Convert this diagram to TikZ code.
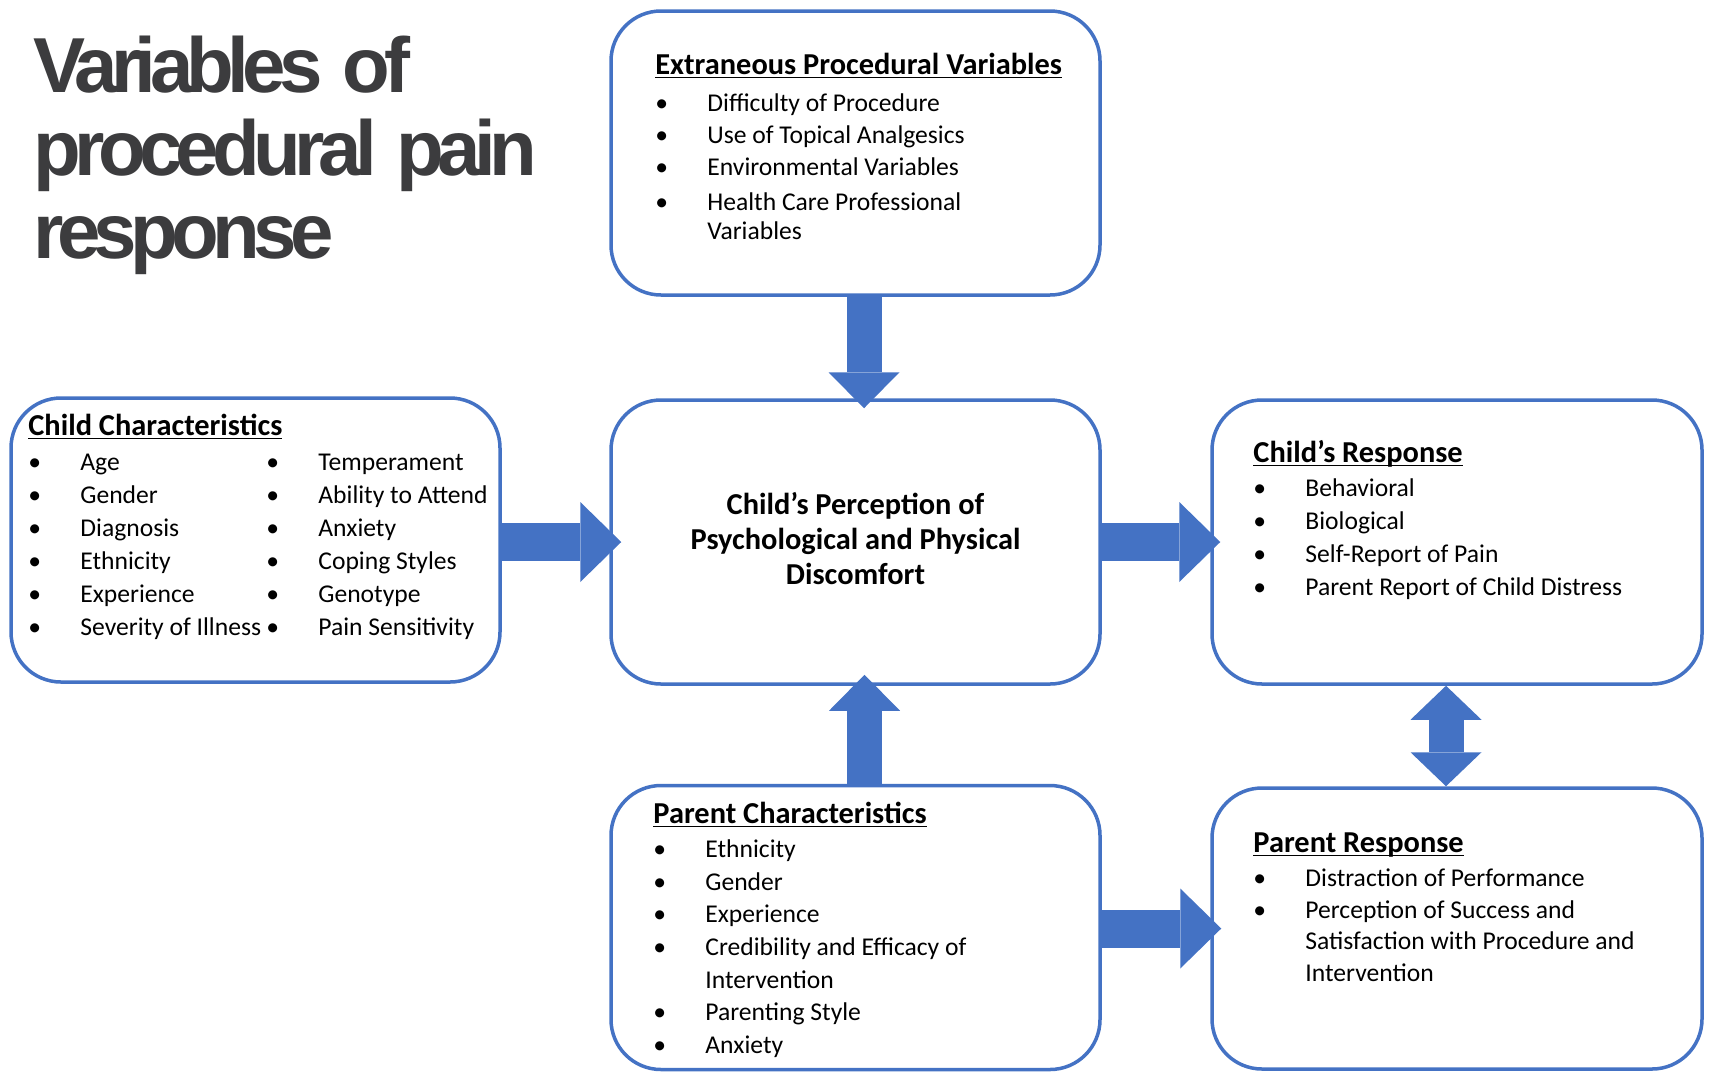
\documentclass[tikz,border=0pt]{standalone}
\usepackage{fontspec}
\setmainfont{Carlito}
\newfontfamily\ttlfont[LetterSpace=-8.5]{Liberation Sans}
\usetikzlibrary{arrows.meta,calc}

\definecolor{azul}{HTML}{4472C4}
\definecolor{gristit}{HTML}{3C3C3E}
\setlength{\tabcolsep}{0pt}
\newcommand{\hd}[2]{\multicolumn{#1}{@{}l@{}}{\fontsize{15.2pt}{17pt}\selectfont\bfseries
  \sbox0{#2}\rlap{\rule[-2.2pt]{\wd0}{0.9pt}}\usebox0}}
\newcommand{\bl}{\makebox[26pt][l]{\textbullet}}

\tikzset{caja/.style={draw=azul, line width=1.75pt, rounded corners=25pt,
                      minimum width=244.5pt, minimum height=142pt, inner sep=0pt},
         etq/.style={inner sep=0pt, anchor=base west, font=\fontsize{12.8pt}{16.5pt}\selectfont},
         fv/.style={azul, line width=17.5pt, -{Triangle[length=18pt, width=35.5pt, line width=0pt]}},
         fh/.style={azul, line width=19pt, -{Triangle[length=20.5pt, width=40pt, line width=0pt]}}}

\begin{document}
\begin{tikzpicture}[x=0.5pt, y=-0.5pt]
  \path[use as bounding box, fill=white] (0,0) rectangle (1711,1072);

  \node[anchor=base west, inner sep=0pt, text=gristit,
        font=\ttlfont\bfseries\fontsize{39pt}{41.5pt}\selectfont] (ttl) at (33,92)
       {\begin{tabular}[t]{@{}l@{}}Variables\hspace{10pt}of\\procedural\hspace{10pt}pain\\response\end{tabular}};

  % cajas
  \node[caja] (ext)  at (855.5,153) {};
  \node[caja, font=\fontsize{15.2pt}{17.5pt}\selectfont\bfseries] (perc) at (855.5,542)
       {\raisebox{1.5pt}{\begin{tabular}{@{}c@{}}Child’s Perception of\\Psychological and Physical\\Discomfort\end{tabular}}};
  \node[caja] (chc)  at (255.5,540) {};
  \node[caja, minimum width=245pt] (cres) at (1457,542) {};
  \node[caja] (pch)  at (855.5,927.5) {};
  \node[caja, minimum width=245pt, minimum height=140.5pt] (pres) at (1457,928.5) {};

  % flechas
  \draw[fv] ($(ext.south)+(8.5,0)$) -- ($(perc.north)+(8.5,10)$);
  \draw[fv] ($(pch.north)+(9,0)$) -- ($(perc.south)+(9,-11)$);
  \draw[fh] (chc.east |- perc.west) -- ($(perc.west)+(12,0)$);
  \draw[fh] (perc.east) -- ($(cres.west)+(10,0)$);
  \draw[fh] (pch.east |- pres.west) -- ($(pres.west)+(11,0)$);
  \draw[fv, {Triangle[length=17pt, width=35.5pt, line width=0pt]}-{Triangle[length=17pt, width=35.5pt, line width=0pt]}]
       ($(cres.south)+(-11,0)$) -- ($(pres.north)+(-11,0)$);

  % textos
  \node[etq, font=\fontsize{12.8pt}{16pt}\selectfont] (extT) at (655,74) {\begin{tabular}[t]{@{}l@{}l@{}}
    \hd{2}{Extraneous Procedural Variables}\\[2.5pt]
    \bl & Difficulty of Procedure\\
    \bl & Use of Topical Analgesics\\
    \bl & Environmental Variables\\[1.5pt]
    \bl & Health Care Professional\\[-1.5pt]
        & Variables
  \end{tabular}};
  \node[etq] (chcT) at (28,435) {\begin{tabular}[t]{@{}l@{}l@{}l@{}l@{}}
    \hd{4}{Child Characteristics}\\[1pt]
    \bl & \makebox[93pt][l]{Age} & \bl & Temperament\\
    \bl & \makebox[93pt][l]{Gender} & \bl & Ability to Attend\\
    \bl & \makebox[93pt][l]{Diagnosis} & \bl & Anxiety\\
    \bl & \makebox[93pt][l]{Ethnicity} & \bl & Coping Styles\\
    \bl & \makebox[93pt][l]{Experience} & \bl & Genotype\\
    \bl & \makebox[93pt][l]{Severity of Illness} & \bl & Pain Sensitivity
  \end{tabular}};
  \node[etq] (cresT) at (1253,462) {\begin{tabular}[t]{@{}l@{}l@{}}
    \hd{2}{Child’s Response}\\[0.5pt]
    \bl & Behavioral\\
    \bl & Biological\\
    \bl & Self-Report of Pain\\
    \bl & Parent Report of Child Distress
  \end{tabular}};
  \node[etq, font=\fontsize{12.8pt}{16.3pt}\selectfont] (pchT) at (653,823) {\begin{tabular}[t]{@{}l@{}l@{}}
    \hd{2}{Parent Characteristics}\\[1pt]
    \bl & Ethnicity\\
    \bl & Gender\\
    \bl & Experience\\
    \bl & Credibility and Efficacy of\\
        & Intervention\\
    \bl & Parenting Style\\
    \bl & Anxiety
  \end{tabular}};
  \node[etq, font=\fontsize{12.8pt}{15.8pt}\selectfont] (presT) at (1253,852) {\begin{tabular}[t]{@{}l@{}l@{}}
    \hd{2}{Parent Response}\\[1.5pt]
    \bl & Distraction of Performance\\
    \bl & Perception of Success and\\
        & Satisfaction with Procedure and\\
        & Intervention
  \end{tabular}};
\end{tikzpicture}
\end{document}
